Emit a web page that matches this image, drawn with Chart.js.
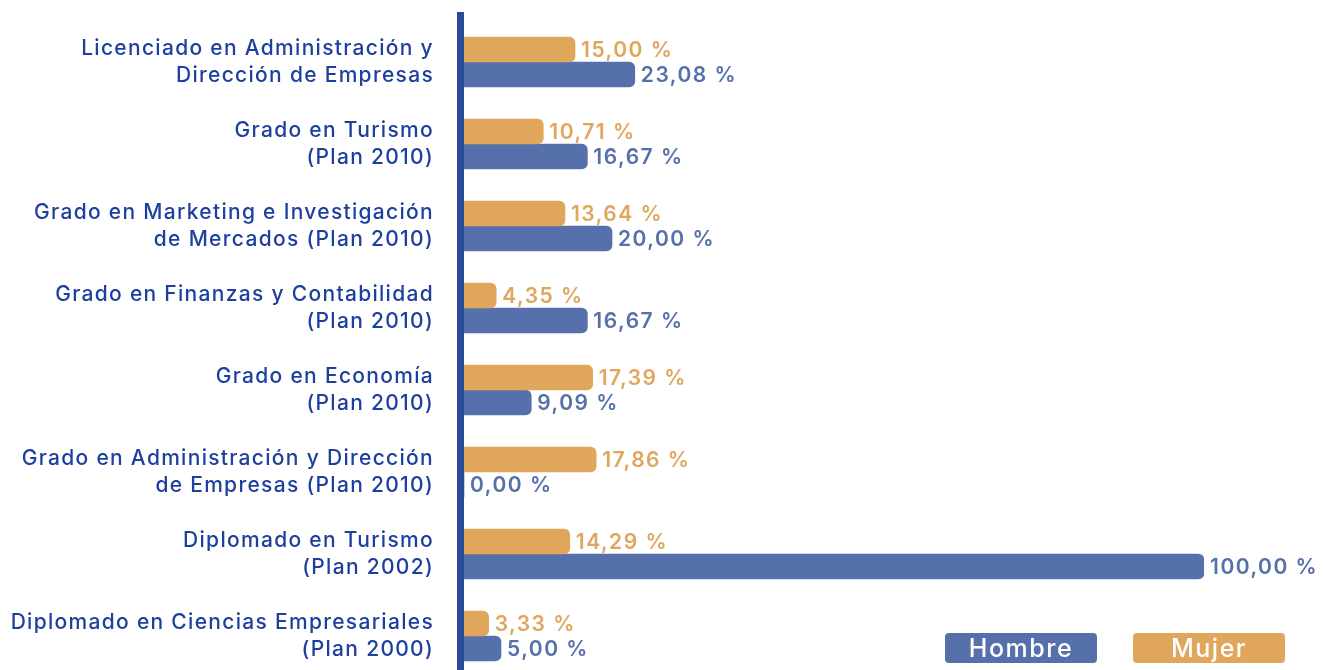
<!DOCTYPE html>
<html>
<head>
<meta charset="utf-8">
<script src="https://cdn.jsdelivr.net/npm/chart.js@4"></script>
<style>
  html, body { margin: 0; padding: 0; background: #fff; overflow: hidden; }
  .wrap { position: relative; width: 1324px; height: 670px; overflow: hidden; }
  #chart { position: absolute; left: 0; top: 0; }
  .legend { position: absolute; top: 633px; left: 945px; display: flex; gap: 36px; }
  .legend span {
    display: block; width: 152px; height: 30px; border-radius: 4px;
    color: #fff; font: 500 25px Inter, sans-serif; letter-spacing: 1.5px;
    text-align: center; line-height: 31px;
  }
</style>
</head>
<body>
<div class="wrap">
  <canvas id="chart" width="1324" height="680"></canvas>
  <div class="legend" id="legend"></div>
</div>
<script>
const categories = [
  ['Licenciado en Administración y', 'Dirección de Empresas'],
  ['Grado en Turismo', '(Plan 2010)'],
  ['Grado en Marketing e Investigación', 'de Mercados (Plan 2010)'],
  ['Grado en Finanzas y Contabilidad', '(Plan 2010)'],
  ['Grado en Economía', '(Plan 2010)'],
  ['Grado en Administración y Dirección', 'de Empresas (Plan 2010)'],
  ['Diplomado en Turismo', '(Plan 2002)'],
  ['Diplomado en Ciencias Empresariales', '(Plan 2000)']
];
const mujer = [15.00, 10.71, 13.64, 4.35, 17.39, 17.86, 14.29, 3.33];
const hombre = [23.08, 16.67, 20.00, 16.67, 9.09, 0.00, 100.00, 5.00];

const mujerColor = '#dfa65c';
const hombreColor = '#5570aa';
const labelColor = '#1d3f9e';
const axisColor = '#2a4a9a';

const fmt = v => v.toFixed(2).replace('.', ',') + ' %';

// wider letter spacing for the tick labels (the original font runs wide)
const spacing = {
  id: 'spacing',
  beforeDraw(chart) { chart.ctx.letterSpacing = '1.3px'; }
};

// thick vertical axis line left of the bars
const axisLine = {
  id: 'axisLine',
  afterDatasetsDraw(chart) {
    const { ctx } = chart;
    const x0 = chart.scales.x.getPixelForValue(0);
    ctx.save();
    ctx.fillStyle = axisColor;
    ctx.fillRect(x0 - 7, 12, 7, chart.height - 12);
    ctx.restore();
  }
};

// value labels at the end of each bar
const valueLabels = {
  id: 'valueLabels',
  afterDatasetsDraw(chart) {
    const { ctx } = chart;
    ctx.save();
    ctx.font = '600 21px Inter, sans-serif';
    ctx.letterSpacing = '1.5px';
    ctx.textBaseline = 'middle';
    ctx.textAlign = 'left';
    chart.data.datasets.forEach((ds, i) => {
      chart.getDatasetMeta(i).data.forEach((bar, j) => {
        ctx.fillStyle = ds.backgroundColor;
        ctx.fillText(fmt(ds.data[j]), bar.x + 6, bar.y + 1);
      });
    });
    ctx.restore();
  }
};

const chart = new Chart(document.getElementById('chart'), {
  type: 'bar',
  data: {
    labels: categories,
    datasets: [
      { label: 'Mujer', data: mujer, backgroundColor: mujerColor },
      { label: 'Hombre', data: hombre, backgroundColor: hombreColor }
    ]
  },
  options: {
    indexAxis: 'y',
    responsive: false,
    animation: false,
    barThickness: 25,
    categoryPercentage: 0.79,
    borderRadius: 6,
    borderSkipped: 'start',
    layout: { padding: { top: 21, bottom: 3, right: 120 } },
    plugins: { legend: { display: false }, tooltip: { enabled: false } },
    scales: {
      x: { display: false, min: 0, max: 100 },
      y: {
        grid: { display: false, drawTicks: false },
        border: { display: false },
        afterFit(scale) {
          scale.width = 464;
          scale.paddingTop = 0;
          scale.paddingBottom = 0;
        },
        ticks: {
          color: labelColor,
          padding: 30,
          font: { family: 'Inter, sans-serif', size: 21, weight: '500', lineHeight: 1.29 }
        }
      }
    }
  },
  plugins: [spacing, axisLine, valueLabels]
});

const legend = document.getElementById('legend');
chart.data.datasets.slice().reverse().forEach(ds => {
  const s = document.createElement('span');
  s.textContent = ds.label;
  s.style.background = ds.backgroundColor;
  legend.appendChild(s);
});
</script>
</body>
</html>
